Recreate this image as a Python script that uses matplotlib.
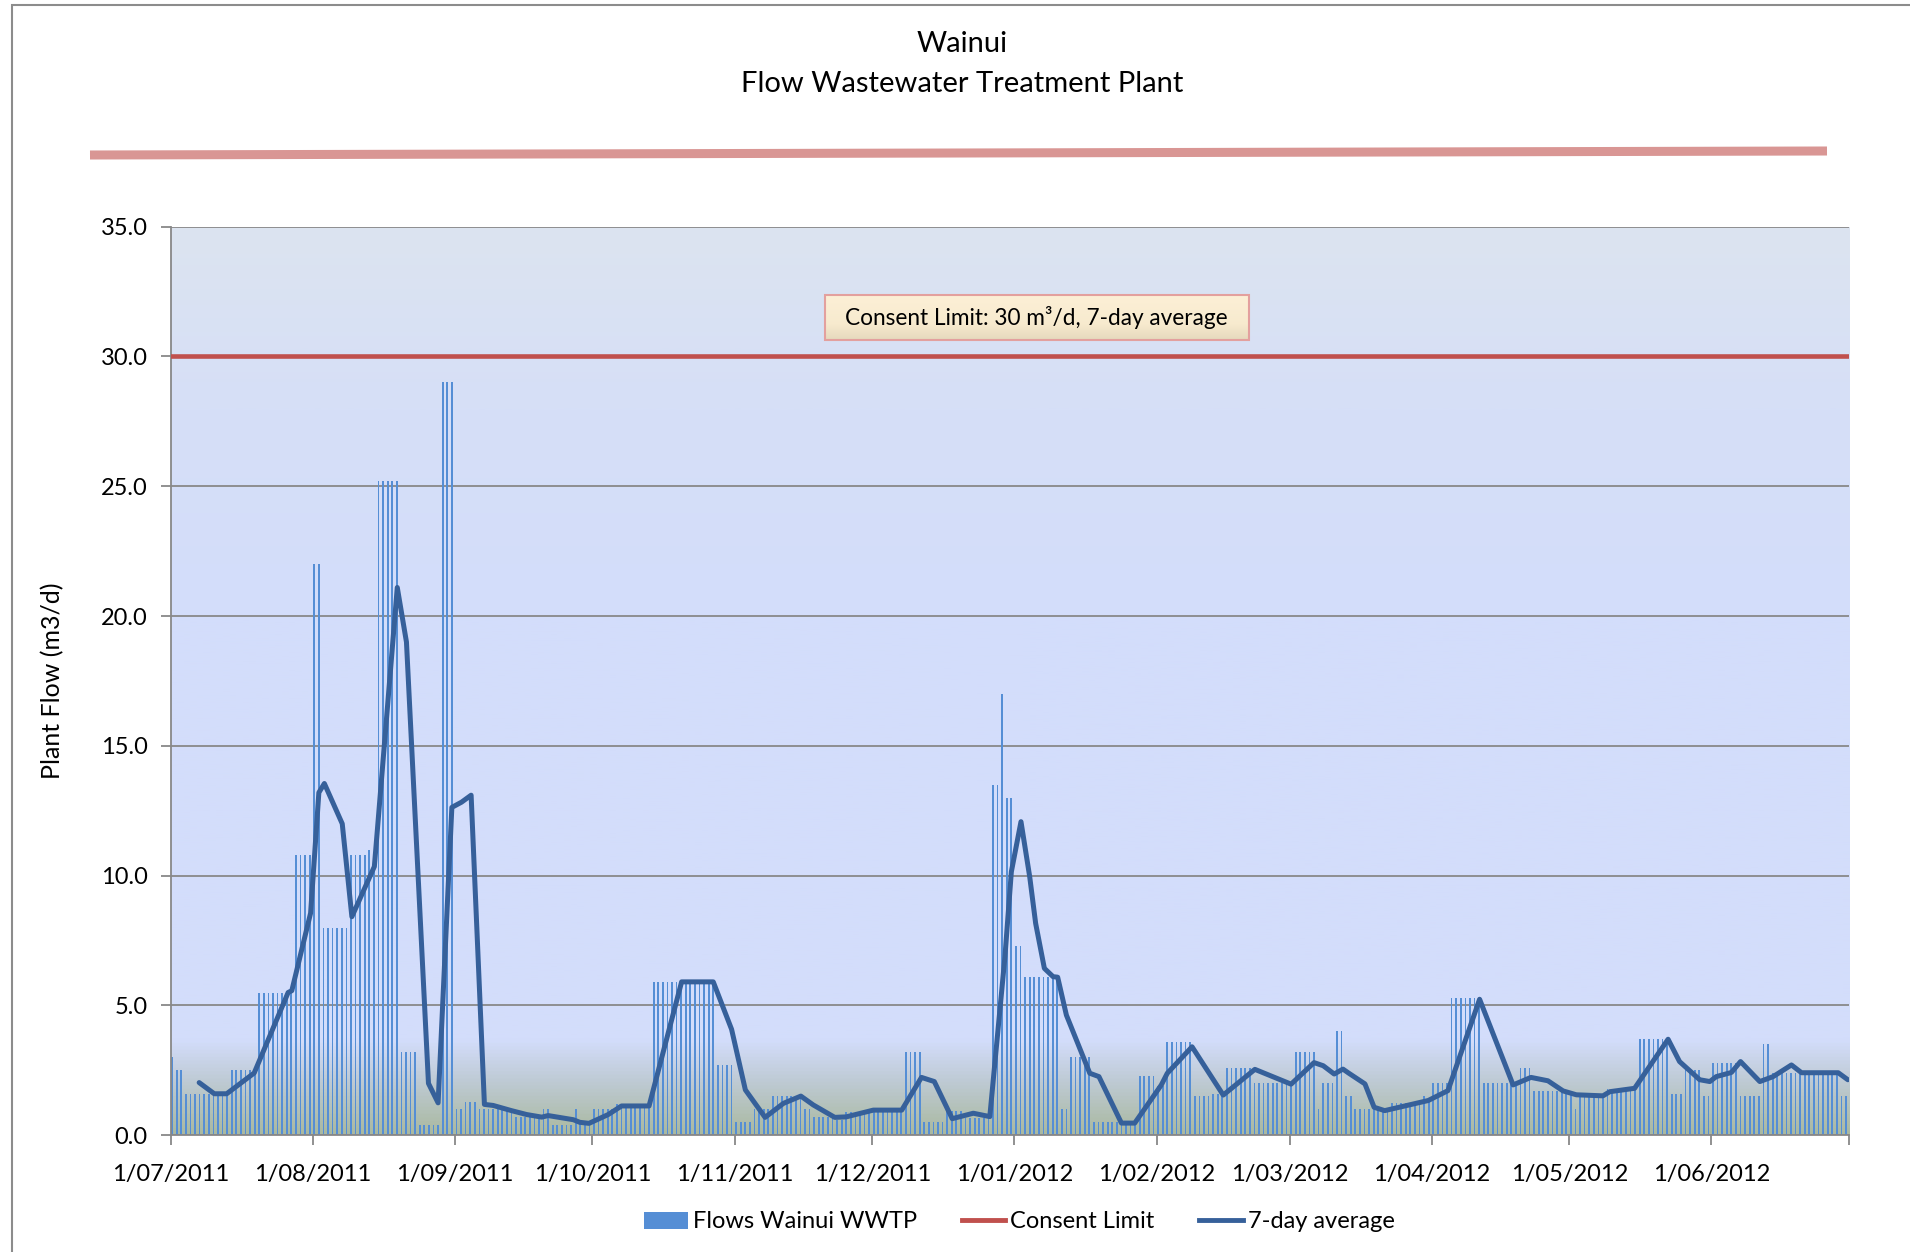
import datetime as dt
import numpy as np
import matplotlib
matplotlib.use("Agg")
import matplotlib.pyplot as plt
import matplotlib.dates as mdates
from matplotlib.lines import Line2D
from matplotlib.patches import Patch, Rectangle
from matplotlib.colors import LinearSegmentedColormap

plt.rcParams["font.family"] = ["Lato", "DejaVu Sans"]

# ---------------- data ----------------
START = dt.date(2011, 7, 1)
END = dt.date(2012, 7, 1)

flows_jul = [3.0, 2.5, 2.5] + [1.6] * 10 + [2.5] * 6 + [5.5] * 8 + [10.8] * 4
flows_aug = [22.0] * 2 + [8.0] * 6 + [10.8] * 4 + [11.0, 10.8] + [25.2] * 5 + [3.2] * 4 + [0.4] * 5 + [29.0] * 3
flows_sep = [1.0] * 2 + [1.3] * 3 + [1.0] * 8 + [0.7] * 6 + [1.0] * 2 + [0.4] * 5 + [1.0] + [0.5] * 3
flows_oct = [1.0] * 5 + [1.2] * 8 + [5.9] * 14 + [2.7] * 4
flows_nov = [0.5] * 4 + [1.0] * 4 + [1.5] * 7 + [1.0] * 2 + [0.7] * 5 + [0.6] * 2 + [0.9] * 5 + [1.0]
flows_dec = [1.0] * 7 + [3.2] * 4 + [0.5] * 5 + [0.95] * 4 + [0.65] * 6 + [13.5] * 2 + [17.0] + [13.0] * 2
flows_jan = [7.3] * 2 + [6.1] * 8 + [1.0] * 2 + [3.0] * 5 + [0.5] * 10 + [2.3] * 4
flows_feb = [1.9, 1.9] + [3.6] * 6 + [1.5] * 4 + [1.6] * 3 + [2.6] * 6 + [2.0] * 8
flows_mar = [2.0] + [3.2] * 5 + [1.0] + [2.0] * 3 + [4.0] * 2 + [1.5] * 2 + [1.0] * 8 + [1.25] * 7 + [1.5, 1.4]
flows_apr = [2.0] * 4 + [5.3] * 7 + [2.0] * 8 + [2.6] * 3 + [1.7] * 8
flows_may = [1.6, 1.0] + [1.5] * 6 + [1.8] * 6 + [1.9] + [3.7] * 7 + [1.6] * 3 + [2.5] * 4 + [1.5] * 2
flows_jun = [2.8] * 6 + [1.5] * 5 + [3.5] * 2 + [2.4] * 15 + [1.5] * 2

consent_limit = 30.0

# 7-day average line vertices: days after 1 July 2011, value
avg_day = [5.9, 9.2, 11.9, 17.9, 25.3, 26.1, 30.2, 32.0, 33.2, 37.1, 39.2, 44.1, 49.1, 51.1,
           55.9, 58.0, 61.0, 63.1, 65.2, 68.1, 70.0, 74.0, 77.3, 80.6, 82.0, 87.5, 88.9, 90.9,
           95.1, 98.0, 104.0, 111.1, 118.0, 122.0, 125.0, 129.3, 133.3, 137.1, 139.8, 144.5,
           147.0, 152.9, 159.1, 163.4, 166.2, 170.1, 174.7, 178.3, 181.6, 183.0, 185.1, 187.0,
           188.3, 190.2, 192.1, 193.1, 195.0, 200.1, 202.1, 207.0, 209.9, 215.7, 217.0, 222.4,
           229.2, 236.1, 244.0, 249.0, 251.0, 253.4, 255.3, 256.6, 260.1, 262.1, 264.4, 273.9,
           278.2, 285.1, 292.4, 296.3, 300.0, 303.3, 306.2, 312.0, 313.5, 318.9, 326.2, 328.7,
           333.1, 335.3, 336.7, 340.0, 342.0, 346.2, 349.1, 353.1, 355.3, 363.3, 365.4]
avg_val = [2.03, 1.6, 1.6, 2.4, 5.5, 5.57, 8.56, 13.2, 13.55, 12.0, 8.42, 10.35, 21.1, 19.0,
           2.0, 1.25, 12.63, 12.83, 13.1, 1.19, 1.15, 0.95, 0.8, 0.7, 0.76, 0.6, 0.5, 0.46,
           0.8, 1.13, 1.13, 5.91, 5.91, 4.08, 1.75, 0.69, 1.23, 1.51, 1.17, 0.69,
           0.71, 0.97, 0.97, 2.23, 2.07, 0.64, 0.85, 0.72, 6.88, 10.15, 12.08, 9.96,
           8.16, 6.43, 6.11, 6.09, 4.63, 2.39, 2.26, 0.47, 0.47, 1.94, 2.39, 3.41,
           1.55, 2.54, 1.97, 2.80, 2.68, 2.36, 2.55, 2.39, 1.98, 1.08, 0.95, 1.34,
           1.72, 5.24, 1.94, 2.23, 2.10, 1.71, 1.56, 1.52, 1.68, 1.81, 3.70, 2.84,
           2.14, 2.07, 2.26, 2.42, 2.84, 2.07, 2.26, 2.71, 2.41, 2.41, 2.14]

tick_labels = ["1/07/2011", "1/08/2011", "1/09/2011", "1/10/2011", "1/11/2011", "1/12/2011",
               "1/01/2012", "1/02/2012", "1/03/2012", "1/04/2012", "1/05/2012", "1/06/2012"]
y_ticks = [0, 5, 10, 15, 20, 25, 30, 35]

title_lines = ["Wainui", "Flow Wastewater Treatment Plant"]
y_label = "Plant Flow (m3/d)"
note_text = "Consent Limit: 30 m³/d, 7-day average"
legend_labels = ["Flows Wainui WWTP", "Consent Limit", "7-day average"]

# ---------------- figure ----------------
W, H = 1910, 1252
fig = plt.figure(figsize=(W / 100, H / 100), dpi=100)
fig.patch.set_facecolor("white")

ax_l, ax_r, ax_t, ax_b = 170.5, 1849, 226.6, 1135.3
ax = fig.add_axes([ax_l / W, 1 - ax_b / H, (ax_r - ax_l) / W, (ax_b - ax_t) / H])

flows = (flows_jul + flows_aug + flows_sep + flows_oct + flows_nov + flows_dec +
         flows_jan + flows_feb + flows_mar + flows_apr + flows_may + flows_jun)
dates = [START + dt.timedelta(days=i) for i in range(len(flows))]
x0 = mdates.date2num(START)
x1 = mdates.date2num(END)
bar_off = 0.35
xb = mdates.date2num(dates) + bar_off

# background gradient
stops = [(0.0, (170, 185, 160)), (2.0 / 35, (190, 202, 212)), (3.6 / 35, (211, 221, 251)),
         (20 / 35, (211, 221, 251)), (28 / 35, (214, 223, 247)), (1.0, (220, 228, 240))]
cmap = LinearSegmentedColormap.from_list("bg", [(p, tuple(c / 255 for c in col)) for p, col in stops])
grad = np.linspace(0, 1, 512).reshape(-1, 1)
ax.imshow(grad, cmap=cmap, aspect="auto", origin="lower", extent=[x0, x1, 0, 35], zorder=0)

ax.bar(xb, flows, width=0.38, color="#558ED5", zorder=2, linewidth=0)
ax.axhline(consent_limit, color="#C0504D", lw=3.3, zorder=3)
ax.plot(x0 + np.array(avg_day) + bar_off, avg_val, color="#36609A", lw=3.6, zorder=4,
        solid_joinstyle="round", solid_capstyle="round")

ax.set_axisbelow(True)
ax.yaxis.grid(True, color="#888888", lw=1.3, zorder=1)

tick_dates = [mdates.date2num(dt.datetime.strptime(t, "%d/%m/%Y")) for t in tick_labels]
ax.set_xticks(tick_dates + [x1])
ax.set_xticklabels(tick_labels + [""])
ax.set_yticks(y_ticks)
ax.set_yticklabels([f"{v:.1f}" for v in y_ticks])
ax.tick_params(axis="both", direction="out", length=7, width=1.3, color="#888888",
               labelsize=17)
ax.tick_params(axis="x", pad=14)
ax.tick_params(axis="y", pad=9.5)
for s in ["top", "right"]:
    ax.spines[s].set_visible(False)
for s in ["left", "bottom"]:
    ax.spines[s].set_color("#888888")
    ax.spines[s].set_linewidth(1.3)
ax.set_ylabel(y_label, fontsize=18, labelpad=26)

# consent note box (gradient fill)
bx0 = (824.7 - ax_l) / (ax_r - ax_l)
bx1 = (1248.6 - ax_l) / (ax_r - ax_l)
by0 = (ax_b - 339.9) / (ax_b - ax_t)
by1 = (ax_b - 294.8) / (ax_b - ax_t)
box_cmap = LinearSegmentedColormap.from_list(
    "box", [(0.0, (0.90, 0.85, 0.74)), (0.35, (0.97, 0.92, 0.81)), (1.0, (0.99, 0.94, 0.84))])
ax.imshow(np.linspace(0, 1, 64).reshape(-1, 1), cmap=box_cmap, aspect="auto", origin="lower",
          extent=[bx0, bx1, by0, by1], transform=ax.transAxes, zorder=5)
ax.add_patch(Rectangle((bx0, by0), bx1 - bx0, by1 - by0, transform=ax.transAxes,
                       fill=False, edgecolor="#E3A09E", lw=1.5, zorder=5.5))
ax.text((bx0 + bx1) / 2, (by0 + by1) / 2, note_text, transform=ax.transAxes,
        ha="center", va="center", fontsize=16.3, zorder=6)

ax.set_xlim(x0, x1)
ax.set_ylim(0, 35)

# titles
fig.text(962 / W, 1 - 44 / H, title_lines[0], ha="center", va="center", fontsize=21)
fig.text(962 / W, 1 - 84 / H, title_lines[1], ha="center", va="center", fontsize=21)

# decorative bar under title
fig.add_artist(Line2D([90 / W, 1827 / W], [1 - 155 / H, 1 - 151 / H], transform=fig.transFigure,
                      color="#D99694", lw=6.5, solid_capstyle="butt"))
# chart border
fig.add_artist(Rectangle((12 / W, -0.5), 2, 1.5 - 5 / H, transform=fig.transFigure,
                         fill=False, edgecolor="#8C8C8C", lw=1.5))

handles = [Patch(facecolor="#558ED5"),
           Line2D([], [], color="#C0504D", lw=3.5),
           Line2D([], [], color="#36609A", lw=3.5)]
fig.legend(handles, legend_labels, loc="center", bbox_to_anchor=(1019.5 / W, 1 - 1222 / H),
           ncol=3, frameon=False, fontsize=17, handlelength=1.85, handletextpad=0.2,
           columnspacing=1.9)

fig.savefig("out.png", dpi=100)
